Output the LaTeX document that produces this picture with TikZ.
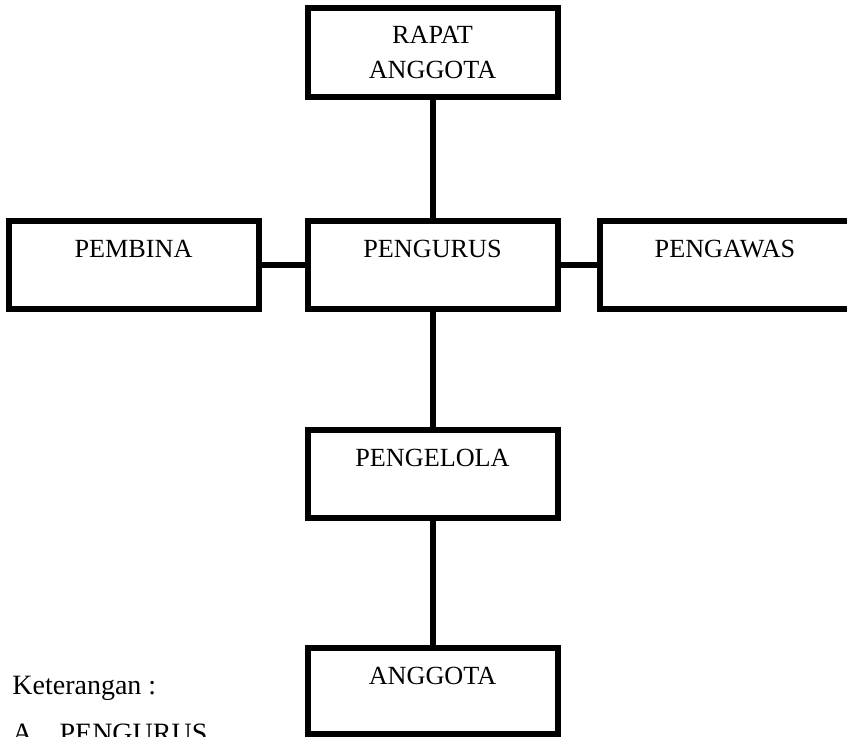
\documentclass[tikz,border=0pt]{standalone}
\usepackage{fontspec}
\setmainfont{Liberation Serif}
\usepackage{tikz}

\begin{document}
\begin{tikzpicture}[x=0.5pt, y=-0.5pt,
    orgframe/.style={draw, line width=3pt, minimum width=125pt, inner sep=0pt, font=\fontsize{13.1}{17.5}\selectfont},
    orgbox/.style={orgframe, text height=18.5pt, text depth=25.5pt, anchor=base},
    link/.style={line width=3pt},
    legend/.style={anchor=base west, inner sep=0pt, font=\fontsize{14}{17}\selectfont}]
  \useasboundingbox (0,0) rectangle (847,736);

  \node[orgframe, minimum height=44.5pt, align=center] (rapat) at (432.5,52.5) {RAPAT\\ANGGOTA};
  \node[orgbox] (pembina) at (133.5,257.5) {PEMBINA};
  \node[orgbox] (pengurus) at (432.5,257.5) {PENGURUS};
  \node[orgbox] (pengawas) at (725,257.5) {PENGAWAS};
  \node[orgbox] (pengelola) at (432.5,466.5) {PENGELOLA};
  \node[orgbox, text depth=24.75pt] (anggota) at (432.5,684.5) {ANGGOTA};

  \draw[link] (rapat) -- (pengurus);
  \draw[link] (pembina) -- (pengurus);
  \draw[link] (pengurus) -- (pengawas);
  \draw[link] (pengurus) -- (pengelola);
  \draw[link] (pengelola) -- (anggota);

  \node[legend] (ket) at (12,694) {Keterangan~:};
  \node[legend] (item) at (12,742) {A.\hspace{10pt}PENGURUS};
\end{tikzpicture}
\end{document}
